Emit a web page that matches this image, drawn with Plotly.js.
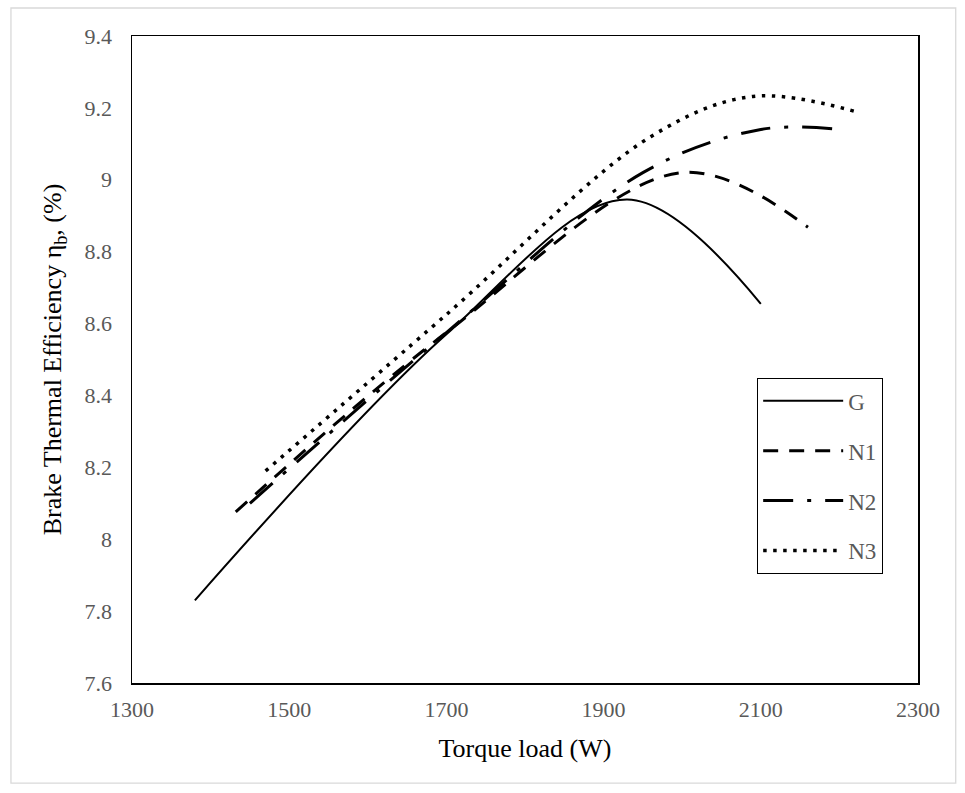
<!DOCTYPE html>
<html>
<head>
<meta charset="utf-8">
<script src="https://cdn.plot.ly/plotly-3.0.1.min.js"></script>
<style>html,body{margin:0;padding:0;background:#fff;}#chart{width:965px;height:793px;}</style>
</head>
<body>
<div id="chart"></div>
<script>
// Torque load (W) and brake thermal efficiency (%) per fuel
const gX  = [1380, 1700, 1930, 2100];
const gY  = [7.83, 8.57, 8.945, 8.655];
const n1X = [1432, 1700, 2000, 2160];
const n1Y = [8.076, 8.575, 9.02, 8.868];
const n2X = [1450, 1700, 1950, 2100, 2200];
const n2Y = [8.10, 8.575, 9.02, 9.14, 9.14];
const n3X = [1470, 1700, 1960, 2090, 2220];
const n3Y = [8.19, 8.625, 9.12, 9.232, 9.19];
const seriesNames = ['G', 'N1', 'N2', 'N3'];
const xTicks = [1300, 1500, 1700, 1900, 2100, 2300];
const yTicks = [7.6, 7.8, 8, 8.2, 8.4, 8.6, 8.8, 9, 9.2, 9.4];

const FONT = 'Liberation Serif, Times New Roman, serif';
const dashes = ['solid', '15px,11px', '30px,14px,4px,14px', '3.5px,6.5px'];
const widths = [2, 3, 3, 3.5];
const xs = [gX, n1X, n2X, n3X];
const ys = [gY, n1Y, n2Y, n3Y];

const traces = seriesNames.map((name, i) => ({
  x: xs[i], y: ys[i], name: name, type: 'scatter', mode: 'lines',
  legendgroup: name,
  line: {color: '#000000', width: widths[i], dash: dashes[i], shape: 'spline', smoothing: 1}
}));

const layout = {
  width: 965, height: 793,
  margin: {l: 132, r: 47, t: 36, b: 110},
  paper_bgcolor: '#ffffff', plot_bgcolor: '#ffffff',
  font: {family: FONT, size: 22, color: '#595959'},
  showlegend: true,
  legend: {
    x: 0.795, y: 0.4714, xanchor: 'left', yanchor: 'top',
    bgcolor: '#ffffff', bordercolor: '#000000', borderwidth: 1.3,
    font: {family: FONT, size: 23, color: '#595959'},
    itemwidth: 80, tracegroupgap: 17, traceorder: 'grouped'
  },
  xaxis: {
    range: [1300, 2300], tickmode: 'array', tickvals: xTicks,
    showgrid: false, zeroline: false, ticks: '',
    showline: true, mirror: true, linecolor: '#000000', linewidth: 1.5,
    tickfont: {family: FONT, size: 22, color: '#595959'},
    ticklabelstandoff: 6,
    title: {text: 'Torque load (W)', font: {family: FONT, size: 26, color: '#000000'}, standoff: 18}
  },
  yaxis: {
    range: [7.6, 9.4], tickmode: 'array', tickvals: yTicks,
    showgrid: false, zeroline: false, ticks: '',
    showline: true, mirror: true, linecolor: '#000000', linewidth: 1.5,
    tickfont: {family: FONT, size: 22, color: '#595959'},
    ticklabelstandoff: 14,
    title: {text: 'Brake Thermal Efficiency η<sub>b</sub>, (%)', font: {family: FONT, size: 26, color: '#000000'}, standoff: 15}
  },
  shapes: [{
    type: 'rect', xref: 'paper', yref: 'paper',
    x0: -0.154, x1: 1.048, y0: -0.1546, y1: 1.0433,
    line: {color: '#d9d9d9', width: 1.3}, fillcolor: 'rgba(0,0,0,0)', layer: 'below'
  }]
};

Plotly.newPlot('chart', traces, layout, {displayModeBar: false, staticPlot: true});
</script>
</body>
</html>
